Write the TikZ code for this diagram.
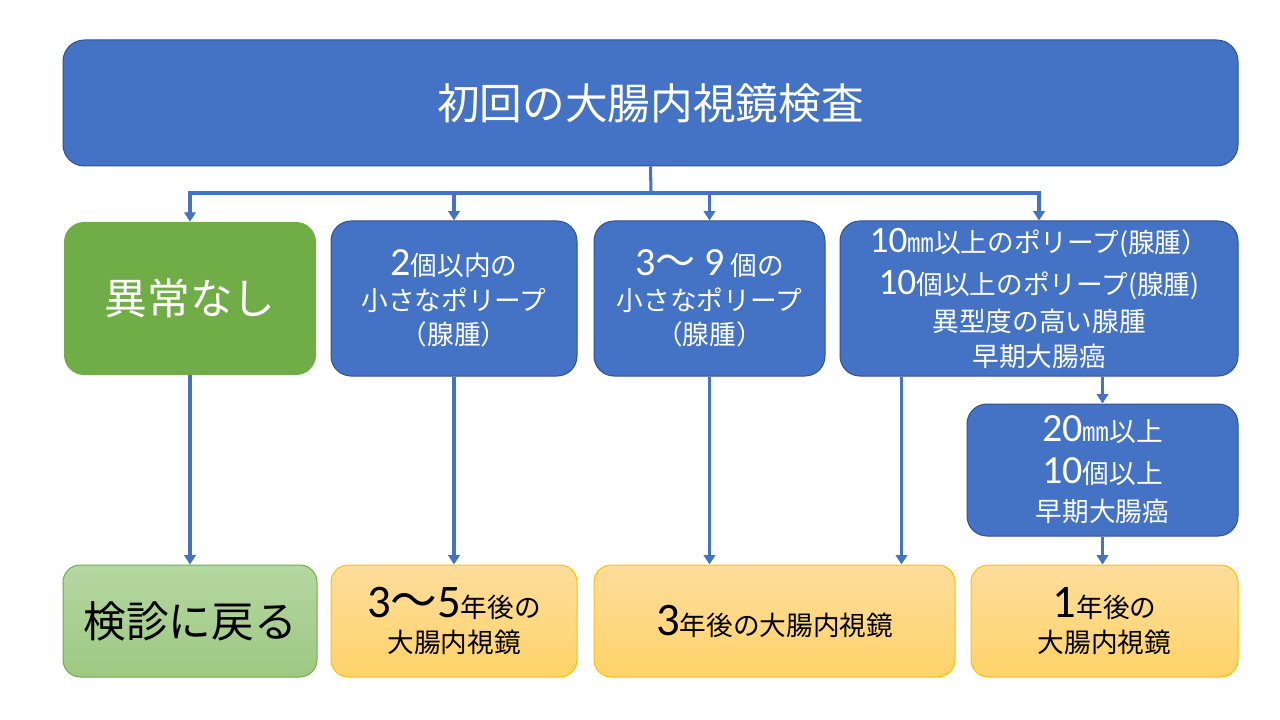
\documentclass[tikz,border=0pt]{standalone}
\usepackage{fontspec}
\setmainfont{Noto Sans CJK JP}
\newfontfamily\digitfont{Carlito}
\usetikzlibrary{arrows.meta,positioning}
\definecolor{boxblue}{HTML}{4472C4}
\definecolor{edgeblue}{HTML}{2F528F}
\definecolor{boxgreen}{HTML}{70AD47}
\definecolor{palegreentop}{HTML}{B5D7A1}
\definecolor{palegreenbot}{HTML}{9DC882}
\definecolor{peachtop}{HTML}{FEDD9C}
\definecolor{peachbot}{HTML}{FFD369}
\definecolor{edgegold}{HTML}{FFC000}
\newcommand\dg[2][30]{{\digitfont\fontsize{#1}{#1}\selectfont #2}}
\newcommand\bj[2][30]{{\fontsize{#1}{#1}\selectfont #2}}

\begin{document}
\begin{tikzpicture}
		[x=0.75pt,y=-0.75pt,
		blue box/.style={draw=edgeblue,line width=0.75pt,fill=boxblue,text=white,rounded corners=15pt,inner sep=0pt,align=center,font=\fontsize{20}{26}\selectfont},
		green box/.style={draw=none,fill=boxgreen,text=white,rounded corners=15pt,inner sep=0pt,align=center,font=\fontsize{32}{38}\selectfont},
		check box/.style={draw=boxgreen,line width=0.75pt,top color=palegreentop,bottom color=palegreenbot,rounded corners=13pt,inner sep=0pt,align=center,font=\fontsize{32}{38}\selectfont,minimum height=84pt},
		year box/.style={draw=edgegold,line width=0.75pt,top color=peachtop,bottom color=peachbot,rounded corners=13pt,inner sep=0pt,align=center,font=\fontsize{20}{26}\selectfont,minimum height=84pt},
		flow/.style={draw=boxblue,line width=2.3pt},
		flow arrow/.style={flow,-{Triangle[width=8.5pt,length=7pt]}}]
		\useasboundingbox (0,0) rectangle (1280,720);
		
		\node[blue box,rounded corners=16pt,minimum width=881.25pt,minimum height=94.5pt,font=\fontsize{32}{38}\selectfont] (top) at (650.5,103) {初回の大腸内視鏡検査};
		
		\node[green box,minimum width=189pt,minimum height=114.75pt] (normal) at (190,298.5) {異常なし};
		\node[blue box,minimum width=184.5pt,minimum height=116.25pt] (few) at (454,298.5) {\dg{2}個以内の\\小さなポリープ\\（腺腫）};
		\node[blue box,minimum width=173.25pt,minimum height=116.25pt] (some) at (709.5,298.5) {\dg{3}\bj{～}\dg{ 9} 個の\\小さなポリープ\\（腺腫）};
		\node[blue box,minimum width=298.5pt,minimum height=116.25pt] (many) at (1039,298.5) {\dg[28]{10}㎜以上のポリープ(腺腫）\\[5pt]\dg[28]{10}個以上のポリープ(腺腫)\\[2pt]異型度の高い腺腫\\早期大腸癌};
		\node[blue box,minimum width=203.25pt,minimum height=99pt] (severe) at (1102.5,470) {\dg{20}㎜以上\\[5pt]\dg{10}個以上\\[3pt]早期大腸癌};
		
		\node[check box,minimum width=190.5pt] (checkup) at (190,621) {検診に戻る};
		\node[year box,minimum width=184.5pt] (five) at (454,621) {\dg[35]{3}\bj[35]{～}\dg[35]{5}年後の\\大腸内視鏡};
		\node[year box,minimum width=270.75pt] (three) at (774.5,621) {\dg[35]{3}年後の大腸内視鏡};
		\node[year box,minimum width=200.25pt] (one) at (1104.5,621) {\dg[35]{1}年後の\\大腸内視鏡};
		
		\coordinate (hub) at (651,193);
		\draw[flow] (top.south) -- (hub);
		\draw[flow arrow] (hub) -| (normal.north);
		\draw[flow arrow] (hub) -| (few.north);
		\draw[flow arrow] (hub) -| (some.north);
		\draw[flow arrow] (hub) -| (many.north);
		
		\draw[flow arrow] (normal.south) -- (checkup.north);
		\draw[flow arrow] (few.south) -- (five.north);
		\draw[flow arrow] (some.south) -- (some.south |- three.north);
		\draw[flow arrow] ([xshift=46.5pt]many.south west) coordinate (left leg) -- (left leg |- three.north);
		\draw[flow arrow] (severe.north |- many.south) -- (severe.north);
		\draw[flow arrow] (severe.south) -- (severe.south |- one.north);
		\end{tikzpicture}
\end{document}
